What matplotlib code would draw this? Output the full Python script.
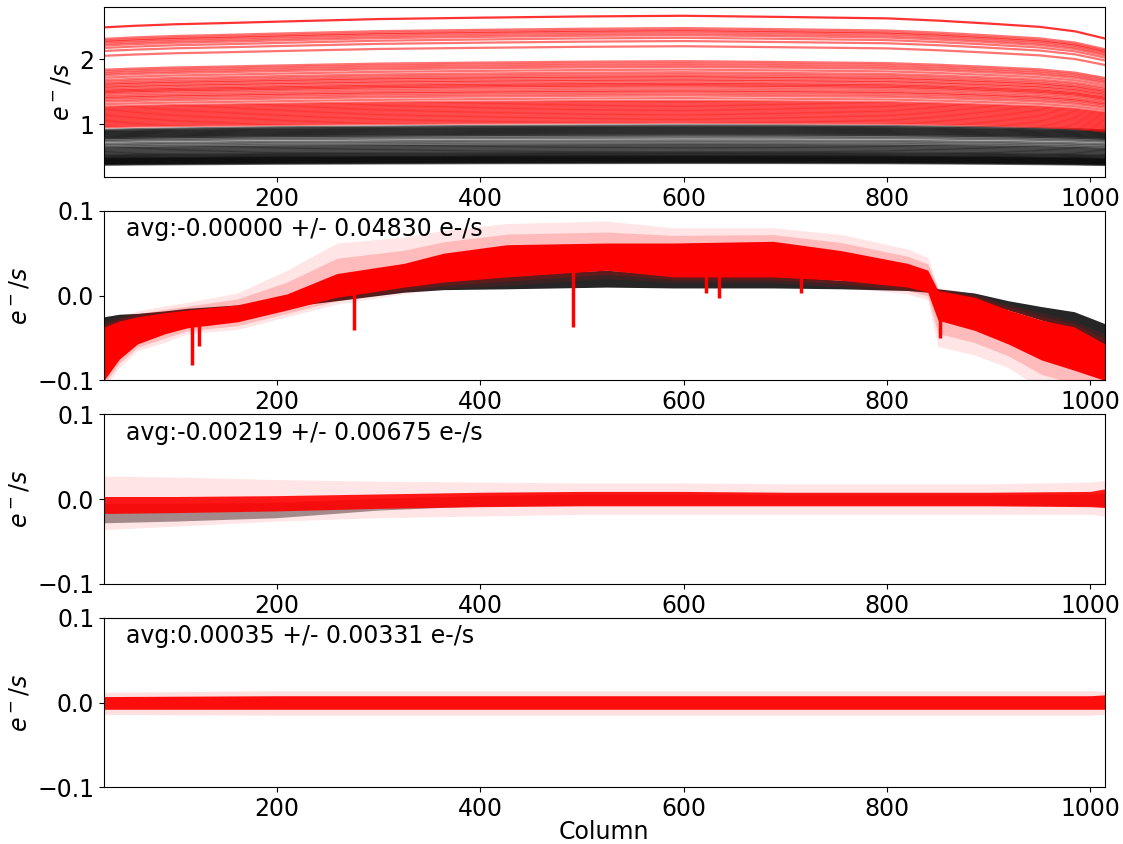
import numpy as np
import matplotlib
matplotlib.use("Agg")
import matplotlib.pyplot as plt

# ~~~~~~~~ data ~~~~~~~~
xlim = (30, 1014)

# panel 1 : raw ramps, level of each line at column 600 and a shared shape
p1_cols = [30, 60, 100, 150, 200, 300, 400, 500, 600, 700, 800, 850, 900, 950, 985, 1014]
red_shape = [0.933, 0.942, 0.951, 0.958, 0.966, 0.981, 0.989, 0.996, 1.0, 0.993,
             0.985, 0.972, 0.955, 0.936, 0.910, 0.869]
blk_shape = [0.93, 0.94, 0.95, 0.96, 0.97, 0.98, 0.99, 0.996, 1.0, 0.998,
             0.99, 0.98, 0.97, 0.955, 0.94, 0.92]
red_levels = [2.67, 2.48, 2.45, 2.43, 2.40, 2.37, 2.33, 2.28, 2.20, 1.97, 1.94, 1.91,
              1.88, 1.84, 1.80, 1.77, 1.74, 1.72, 1.69, 1.67, 1.64, 1.62, 1.60, 1.58,
              1.55, 1.52, 1.50, 1.47, 1.44, 1.40, 1.36, 1.34, 1.32, 1.30, 1.28, 1.26,
              1.24, 1.22, 1.20, 1.18, 1.16, 1.14, 1.12, 1.10, 1.08, 1.06, 1.04, 1.02]
blk_levels = [0.98, 0.96, 0.945, 0.93, 0.915, 0.90, 0.885, 0.87, 0.855, 0.84, 0.82,
              0.79, 0.75, 0.72, 0.69, 0.67, 0.65, 0.63, 0.61, 0.59, 0.57, 0.555, 0.54,
              0.525, 0.51, 0.50, 0.49, 0.48, 0.47, 0.46, 0.45, 0.44, 0.43, 0.42, 0.41, 0.40]

# panel 2 : residual envelopes (e-/s)
p2_cols = [30, 45, 63, 90, 112, 161, 210, 259, 325, 364, 426, 524, 590, 688, 755,
           820, 840, 850, 886, 919, 952, 984, 1014]
p2_blk_lo = [-0.048, -0.040, -0.031, -0.028, -0.025, -0.019, -0.013, -0.006, 0.004,
             0.007, 0.008, 0.010, 0.009, 0.009, 0.008, 0.006, 0.004, 0.000, -0.008,
             -0.017, -0.029, -0.040, -0.068]
p2_blk_hi = [-0.025, -0.022, -0.021, -0.018, -0.015, -0.011, -0.006, 0.006, 0.016,
             0.020, 0.024, 0.030, 0.024, 0.024, 0.018, 0.015, 0.013, 0.008, 0.003,
             -0.006, -0.013, -0.019, -0.033]
p2_red_lo = [-0.100, -0.075, -0.057, -0.045, -0.038, -0.031, -0.017, -0.002, 0.010,
             0.016, 0.022, 0.030, 0.022, 0.022, 0.018, 0.010, 0.004, -0.029, -0.041,
             -0.057, -0.076, -0.088, -0.100]
p2_red_hi = [-0.037, -0.030, -0.025, -0.020, -0.017, -0.011, 0.002, 0.026, 0.038,
             0.050, 0.060, 0.062, 0.062, 0.064, 0.053, 0.038, 0.030, 0.006, -0.002,
             -0.017, -0.029, -0.037, -0.057]
p2_fnt_lo = [-0.110, -0.085, -0.065, -0.055, -0.045, -0.040, -0.025, -0.010, 0.002,
             0.008, 0.012, 0.020, 0.015, 0.015, 0.010, 0.002, -0.005, -0.060, -0.070,
             -0.085, -0.110, -0.120, -0.120]
p2_fnt_hi = [-0.030, -0.025, -0.018, -0.012, -0.008, 0.003, 0.030, 0.062, 0.069,
             0.077, 0.085, 0.088, 0.080, 0.080, 0.072, 0.055, 0.045, 0.010, 0.002,
             -0.010, -0.020, -0.030, -0.045]
dip_cols = [117, 123, 276, 491, 622, 635, 715, 852]
dip_lo = [-0.082, -0.060, -0.041, -0.037, 0.003, -0.003, 0.003, -0.050]
dip_top = [-0.025, -0.025, 0.010, 0.045, 0.040, 0.040, 0.040, -0.010]

# panel 3
p3_cols = [30, 100, 200, 300, 400, 500, 600, 700, 800, 900, 1000, 1014]
p3_red_lo = [-0.017, -0.016, -0.014, -0.011, -0.009, -0.008, -0.008, -0.008, -0.008,
             -0.008, -0.009, -0.010]
p3_red_hi = [0.003, 0.003, 0.004, 0.006, 0.008, 0.009, 0.009, 0.008, 0.008, 0.008,
             0.009, 0.012]
p3_fnt_lo = [-0.036, -0.032, -0.026, -0.022, -0.020, -0.018, -0.018, -0.018, -0.018,
             -0.018, -0.018, -0.020]
p3_fnt_hi = [0.027, 0.026, 0.023, 0.021, 0.020, 0.019, 0.019, 0.018, 0.018, 0.018,
             0.020, 0.022]
p3_blk_lo = [-0.028, -0.026, -0.022, -0.013, -0.008, -0.007, -0.007, -0.007, -0.007,
             -0.007, -0.008, -0.008]
p3_blk_hi = [-0.005, -0.005, -0.004, 0.001, 0.004, 0.006, 0.006, 0.005, 0.005, 0.005,
             0.006, 0.007]

# panel 4
p4_cols = [30, 200, 400, 600, 800, 1000, 1014]
p4_red_lo = [-0.008, -0.008, -0.008, -0.008, -0.008, -0.008, -0.008]
p4_red_hi = [0.007, 0.008, 0.008, 0.008, 0.008, 0.008, 0.009]
p4_fnt_lo = [-0.014, -0.015, -0.015, -0.015, -0.015, -0.015, -0.014]
p4_fnt_hi = [0.012, 0.014, 0.014, 0.014, 0.014, 0.014, 0.013]

labels = ["avg:-0.00000 +/- 0.04830 e-/s",
          "avg:-0.00219 +/- 0.00675 e-/s",
          "avg:0.00035 +/- 0.00331 e-/s"]
# ~~~~~~~~~~~~~~~~~~~~~~~~~~~~~~~~~~~~~~~~~~~~~~

plt.rcParams['font.size'] = 17

fig, axes = plt.subplots(4, 1, figsize=(11.23, 8.44), dpi=100)
fig.subplots_adjust(left=0.0926, right=0.9837, top=0.9913, bottom=0.0672, hspace=0.2)

# top panel
ax = axes[0]
for lev in blk_levels:
    ax.plot(p1_cols, lev * np.array(blk_shape), color='k', alpha=0.55, lw=1.6)
for i, lev in enumerate(red_levels):
    ax.plot(p1_cols, lev * np.array(red_shape), color='r',
            alpha=0.8 if i == 0 else 0.55, lw=1.6)
ax.set_ylim(0.185, 2.80)
ax.set_yticks([1, 2])


def band(ax, cols, lo, hi, color, alpha):
    ax.fill_between(cols, lo, hi, color=color, alpha=alpha, lw=0)


ax = axes[1]
band(ax, p2_cols, p2_blk_lo, p2_blk_hi, 'k', 0.85)
band(ax, p2_cols, p2_fnt_lo, p2_fnt_hi, 'r', 0.1)
band(ax, p2_cols, (np.array(p2_fnt_lo) + np.array(p2_red_lo)) / 2,
     (np.array(p2_fnt_hi) + np.array(p2_red_hi)) / 2, 'r', 0.18)
band(ax, p2_cols, p2_red_lo, p2_red_hi, 'r', 1.0)
ax.vlines(dip_cols, dip_lo, dip_top, color='r', lw=2.5)

ax = axes[2]
band(ax, p3_cols, p3_blk_lo, p3_blk_hi, 'k', 0.4)
band(ax, p3_cols, p3_fnt_lo, p3_fnt_hi, 'r', 0.1)
band(ax, p3_cols, p3_red_lo, p3_red_hi, 'r', 0.9)

ax = axes[3]
band(ax, p4_cols, p4_fnt_lo, p4_fnt_hi, 'r', 0.12)
band(ax, p4_cols, p4_red_lo, p4_red_hi, 'r', 0.95)

for ax, txt in zip(axes[1:], labels):
    ax.set_ylim(-0.1, 0.1)
    ax.set_yticks([-0.1, 0.0, 0.1])
    ax.text(0.022, 0.89, txt, transform=ax.transAxes, va='center')

for ax in axes:
    ax.set_xlim(*xlim)
    ax.set_xticks([200, 400, 600, 800, 1000])
    ax.set_ylabel('$e^-/s$')
axes[-1].set_xlabel('Column', labelpad=-1)

fig.savefig('out.png', dpi=100)
